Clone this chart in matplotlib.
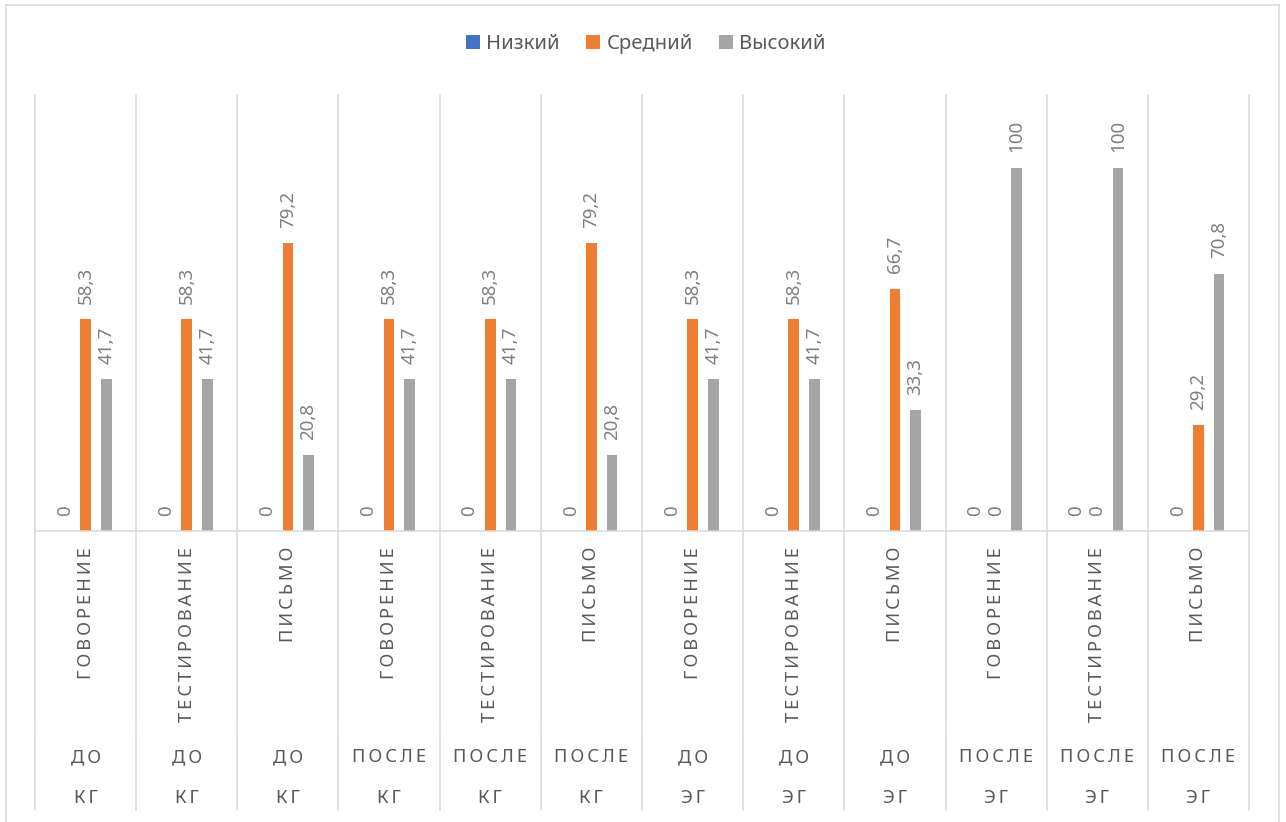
import matplotlib
matplotlib.use("Agg")
import matplotlib.pyplot as plt
from matplotlib.transforms import blended_transform_factory
from matplotlib.lines import Line2D
import numpy as np

plt.rcParams['font.family'] = ['Noto Sans', 'DejaVu Sans']

# ---- data ----
level1 = ["ГОВОРЕНИЕ", "ТЕСТИРОВАНИЕ", "ПИСЬМО",
          "ГОВОРЕНИЕ", "ТЕСТИРОВАНИЕ", "ПИСЬМО",
          "ГОВОРЕНИЕ", "ТЕСТИРОВАНИЕ", "ПИСЬМО",
          "ГОВОРЕНИЕ", "ТЕСТИРОВАНИЕ", "ПИСЬМО"]
level2 = ["ДО", "ДО", "ДО", "ПОСЛЕ", "ПОСЛЕ", "ПОСЛЕ",
          "ДО", "ДО", "ДО", "ПОСЛЕ", "ПОСЛЕ", "ПОСЛЕ"]
level3 = ["КГ", "КГ", "КГ", "КГ", "КГ", "КГ",
          "ЭГ", "ЭГ", "ЭГ", "ЭГ", "ЭГ", "ЭГ"]
series_names = ["Низкий", "Средний", "Высокий"]
low = [0, 0, 0, 0, 0, 0, 0, 0, 0, 0, 0, 0]
mid = [58.3, 58.3, 79.2, 58.3, 58.3, 79.2, 58.3, 58.3, 66.7, 0, 0, 29.2]
high = [41.7, 41.7, 20.8, 41.7, 41.7, 20.8, 41.7, 41.7, 33.3, 100, 100, 70.8]

colors = ["#4472C4", "#ED7D31", "#A5A5A5"]
W, H = 1286, 822
fig = plt.figure(figsize=(W / 100, H / 100), dpi=100)

def fx(px):
    return px / W

def fy(py):
    return 1 - py / H

left, right, top, bottom = 35, 1249, 95, 531
ax = fig.add_axes([fx(left), fy(bottom), fx(right - left), fy(top) - fy(bottom)])
ax.set_xlim(-0.5, 11.5)
ax.set_ylim(0, 120)
for s in ax.spines.values():
    s.set_visible(False)
ax.set_xticks([])
ax.set_yticks([])

x = np.arange(len(level1))
bw = 0.105
off = 0.204
label_col = "#7F7F7F"
text_col = "#595959"
grid_col = "#D9D9D9"

def fmt(v):
    if float(v).is_integer():
        return str(int(v))
    return f"{v:.1f}".replace(".", ",")

for i, (vals, c) in enumerate(zip([low, mid, high], colors)):
    xs = x + (i - 1) * off
    ax.bar(xs, vals, width=bw, color=c, label=series_names[i], linewidth=0)
    for xi, v in zip(xs, vals):
        ax.annotate(fmt(v), (xi, v), xytext=(0, 11), textcoords="offset points",
                    rotation=90, ha="center", va="bottom", fontsize=13.5,
                    color=label_col, annotation_clip=False)

# separators
tr = blended_transform_factory(ax.transData, fig.transFigure)
for k in range(len(level1) + 1):
    xb = -0.5 + k
    fig.add_artist(Line2D([xb, xb], [fy(top), fy(727)], transform=tr, color=grid_col, lw=1.1))
    fig.add_artist(Line2D([xb, xb], [fy(729), fy(810)], transform=tr, color=grid_col, lw=1.1))
fig.add_artist(Line2D([-0.5, 11.5], [fy(bottom), fy(bottom)], transform=tr, color=grid_col, lw=1.1))

# outer border
bc = "#D9D9D9"
fig.add_artist(Line2D([fx(5.5), fx(5.5)], [fy(5.5), fy(822)], color=bc, lw=1.1))
fig.add_artist(Line2D([fx(5.5), fx(1278.5)], [fy(5.5), fy(5.5)], color=bc, lw=1.1))
fig.add_artist(Line2D([fx(1278.5), fx(1278.5)], [fy(5.5), fy(822)], color=bc, lw=1.1))

def spaced(s):
    return "\u2009".join(s)

for xi, a, b, c in zip(x, level1, level2, level3):
    fig.text(xi, fy(547), spaced(a), transform=tr, rotation=90, ha="center", va="top",
             fontsize=13.2, color=text_col)
    fig.text(xi, fy(757), spaced(b), transform=tr, ha="center", va="center",
             fontsize=13.2, color=text_col)
    fig.text(xi, fy(798), spaced(c), transform=tr, ha="center", va="center",
             fontsize=13.2, color=text_col)

fig.legend(loc="center", bbox_to_anchor=(fx(646), fy(44)), ncol=3, frameon=False,
           fontsize=14.5, handlelength=0.7, handleheight=0.7, handletextpad=0.3,
           columnspacing=1.3, labelcolor=text_col)

fig.savefig("out.png", dpi=100)
